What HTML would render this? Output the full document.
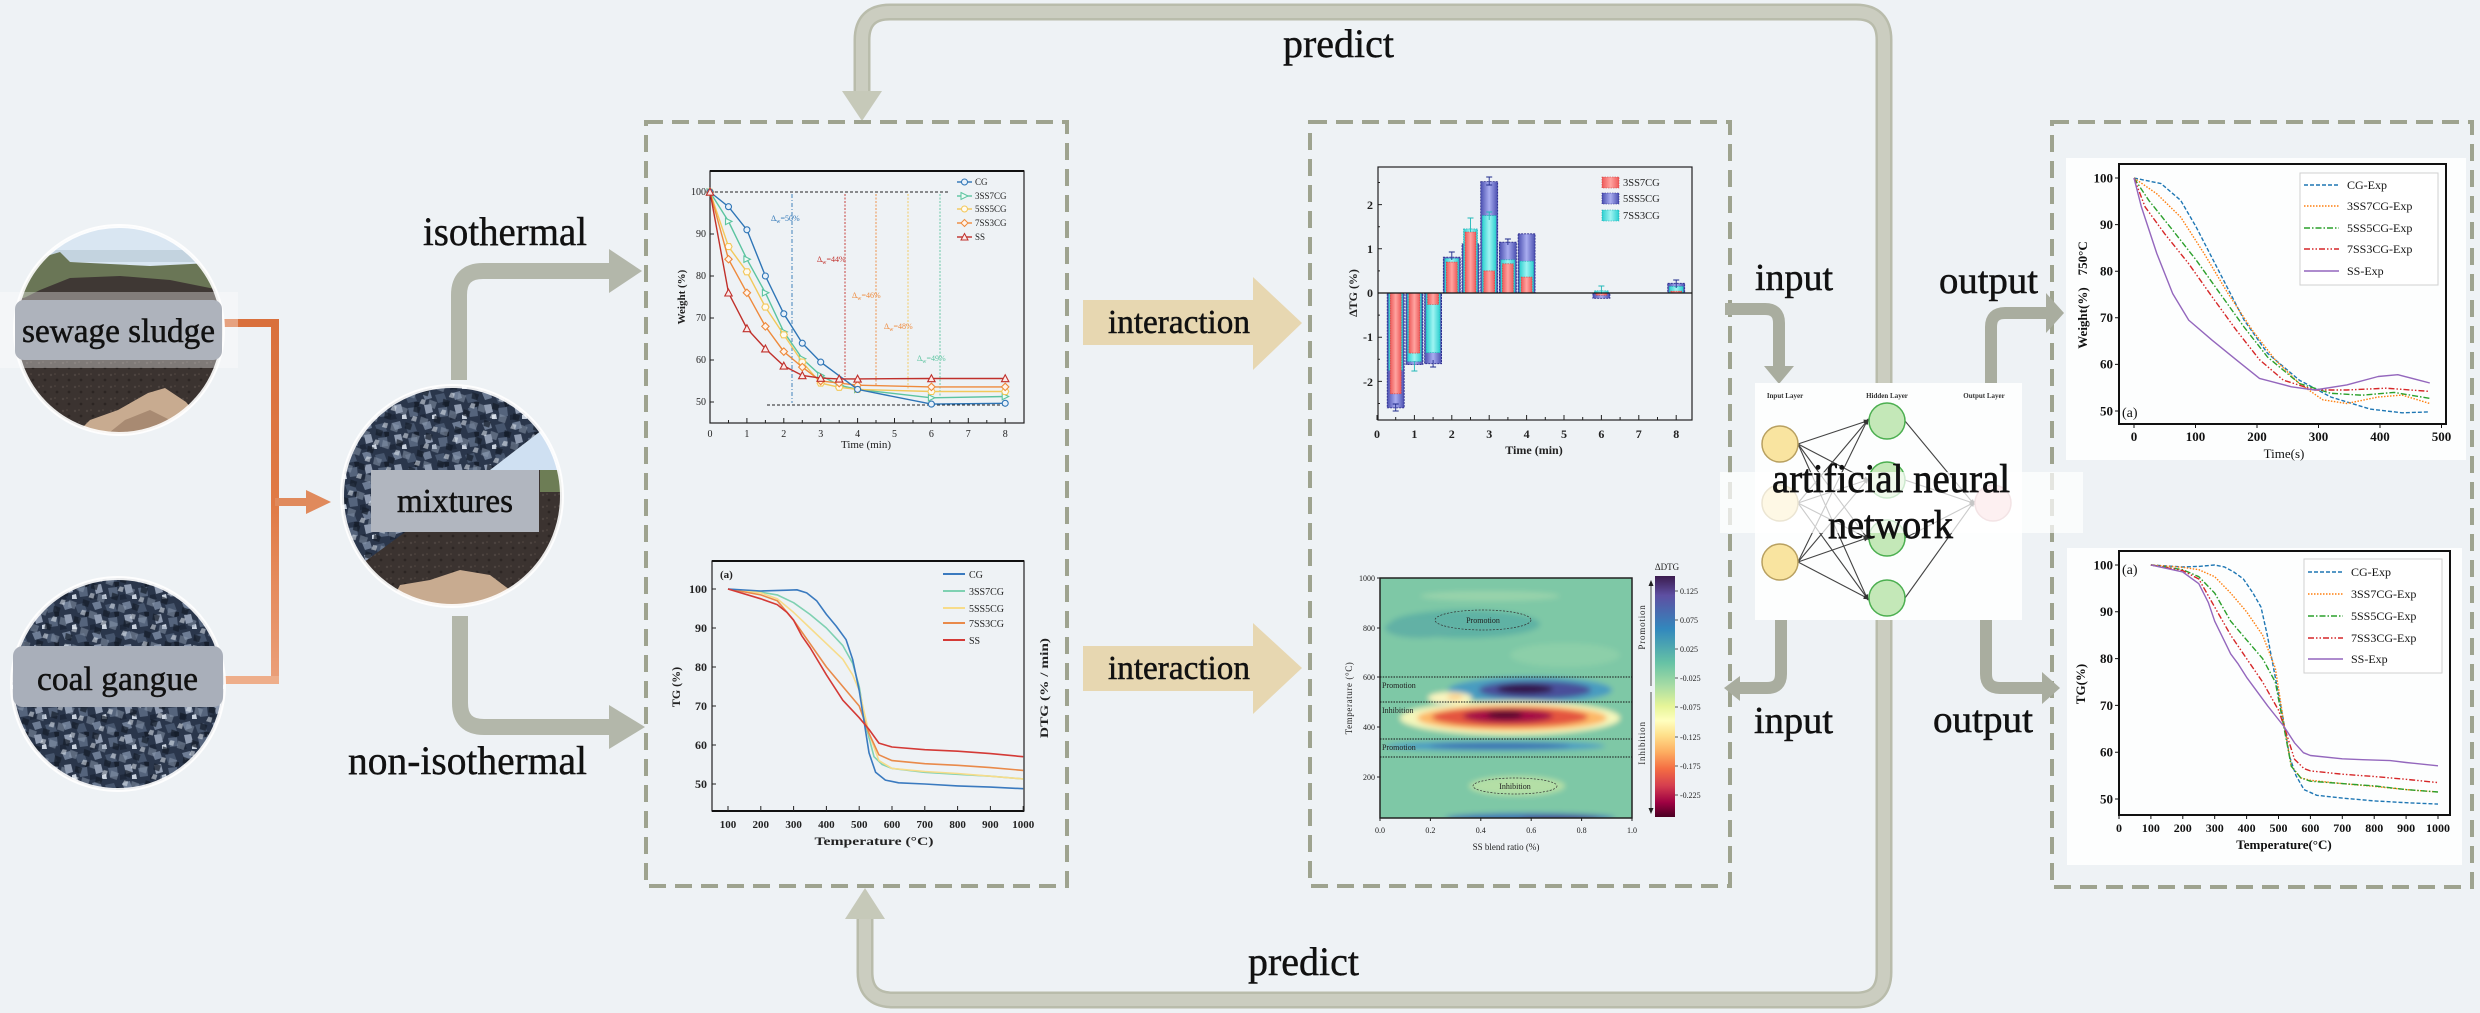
<!DOCTYPE html>
<html><head><meta charset="utf-8"><title>SS/CG ANN graphical abstract</title>
<style>html,body{margin:0;padding:0;background:#eef2f5;}svg{display:block;}svg text{font-family:"Liberation Serif","Times New Roman",serif;}</style></head>
<body>
<svg width="2480" height="1013" viewBox="0 0 2480 1013" xmlns="http://www.w3.org/2000/svg" font-family="'Liberation Serif', serif">
<defs>
  <pattern id="coal" width="30" height="30" patternUnits="userSpaceOnUse">
    <rect width="30" height="30" fill="#2a364b"/>
    <polygon points="2,3 10,1 12,8 5,10" fill="#6d7c94"/>
    <polygon points="15,5 24,3 27,11 18,13" fill="#46556d"/>
    <polygon points="4,15 11,14 13,22 6,24" fill="#8f9bb0"/>
    <polygon points="18,18 27,17 28,26 20,27" fill="#55647c"/>
    <polygon points="12,25 16,24 17,29 12,29" fill="#c9d2de"/>
    <polygon points="24,12 29,12 29,16 25,17" fill="#18202e"/>
    <polygon points="0,25 5,24 7,29 0,30" fill="#1f293b"/>
  </pattern>
  <pattern id="coal2" width="23" height="19" patternUnits="userSpaceOnUse" patternTransform="rotate(27)">
    <polygon points="1,2 8,1 9,7 3,8" fill="#141c2a" opacity="0.7"/>
    <polygon points="12,9 20,8 21,15 14,16" fill="#8e9cb0" opacity="0.5"/>
    <polygon points="5,12 9,11 10,16 5,17" fill="#e4eaf2" opacity="0.55"/>
  </pattern>
  <pattern id="soil" width="12" height="12" patternUnits="userSpaceOnUse">
    <rect width="12" height="12" fill="#3b3330"/>
    <circle cx="3" cy="3" r="1.2" fill="#4d4440"/>
    <circle cx="9" cy="8" r="1.4" fill="#2c2523"/>
    <circle cx="7" cy="2" r="0.8" fill="#554a44"/>
  </pattern>
  <clipPath id="cSew"><circle cx="119" cy="330" r="104"/></clipPath>
  <clipPath id="cCoal"><circle cx="118" cy="684" r="106"/></clipPath>
  <clipPath id="cMix"><circle cx="452" cy="496" r="110"/></clipPath>
  <clipPath id="hmclip"><rect x="1380" y="578" width="252" height="240"/></clipPath>
  <filter id="blur3" x="-10%" y="-10%" width="120%" height="120%"><feGaussianBlur stdDeviation="2.6"/></filter>
  <linearGradient id="cbar" x1="0" y1="0" x2="0" y2="1">
    <stop offset="0" stop-color="#3b1c4e"/><stop offset="0.08" stop-color="#5e4fa2"/>
    <stop offset="0.22" stop-color="#3288bd"/><stop offset="0.36" stop-color="#66c2a5"/>
    <stop offset="0.46" stop-color="#abdda4"/><stop offset="0.54" stop-color="#e6f598"/>
    <stop offset="0.6" stop-color="#ffffbf"/><stop offset="0.66" stop-color="#fee08b"/>
    <stop offset="0.73" stop-color="#fdae61"/><stop offset="0.8" stop-color="#f46d43"/>
    <stop offset="0.87" stop-color="#d53e4f"/><stop offset="0.94" stop-color="#9e0142"/>
    <stop offset="1" stop-color="#4a0022"/>
  </linearGradient>
  <linearGradient id="gP" x1="0" x2="1"><stop offset="0" stop-color="#4a4fb0"/><stop offset="0.5" stop-color="#a9adf0"/><stop offset="1" stop-color="#4a4fb0"/></linearGradient>
  <linearGradient id="gC" x1="0" x2="1"><stop offset="0" stop-color="#2ccfd0"/><stop offset="0.5" stop-color="#9ff4f2"/><stop offset="1" stop-color="#2ccfd0"/></linearGradient>
  <linearGradient id="gR" x1="0" x2="1"><stop offset="0" stop-color="#ee5a5a"/><stop offset="0.5" stop-color="#ffa4a0"/><stop offset="1" stop-color="#ee5a5a"/></linearGradient>
  <linearGradient id="orV" gradientUnits="userSpaceOnUse" x1="0" y1="319" x2="0" y2="684"><stop offset="0" stop-color="#d9703c"/><stop offset="0.5" stop-color="#e07a45"/><stop offset="1" stop-color="#eba07a"/></linearGradient>
  <marker id="mCG" markerWidth="8" markerHeight="8" refX="4" refY="4" markerUnits="userSpaceOnUse" overflow="visible"><circle cx="4" cy="4" r="3" fill="#e8f1fa" stroke="#2e75b6" stroke-width="1.1"/></marker>
  <marker id="m3" markerWidth="8" markerHeight="8" refX="4" refY="4" markerUnits="userSpaceOnUse" overflow="visible"><path d="M1,0.8 L7.5,4 L1,7.2 Z" fill="#eefaf5" stroke="#5cc4a0" stroke-width="1.1"/></marker>
  <marker id="m5" markerWidth="8" markerHeight="8" refX="4" refY="4" markerUnits="userSpaceOnUse" overflow="visible"><path d="M2,1 L6,1 L7.6,4 L6,7 L2,7 L0.4,4 Z" fill="#fffaf0" stroke="#f3c85a" stroke-width="1.1"/></marker>
  <marker id="m7" markerWidth="8" markerHeight="8" refX="4" refY="4" markerUnits="userSpaceOnUse" overflow="visible"><path d="M4,0.3 L7.7,4 L4,7.7 L0.3,4 Z" fill="#fff3ea" stroke="#ee8a3c" stroke-width="1.1"/></marker>
  <marker id="mSS" markerWidth="8" markerHeight="8" refX="4" refY="4" markerUnits="userSpaceOnUse" overflow="visible"><path d="M4,0.3 L7.7,7.2 L0.3,7.2 Z" fill="#fbeaea" stroke="#c0302b" stroke-width="1.1"/></marker>
  <marker id="ah" markerWidth="6" markerHeight="6" refX="3" refY="3" orient="auto" markerUnits="userSpaceOnUse" overflow="visible"><path d="M0,0.5 L6,3 L0,5.5 Z" fill="#333"/></marker>
</defs>

<rect width="2480" height="1013" fill="#eef2f5"/>

<!-- predict loop -->
<path d="M862,95 L862,40 Q862,12 890,12 L1856,12 Q1884,12 1884,40 L1884,972 Q1884,1000 1856,1000 L893,1000 Q865,1000 865,972 L865,915" fill="none" stroke="#b9bcab" stroke-width="17"/>
<path d="M862,95 L862,40 Q862,12 890,12 L1856,12 Q1884,12 1884,40 L1884,972 Q1884,1000 1856,1000 L893,1000 Q865,1000 865,972 L865,915" fill="none" stroke="#cbcdc0" stroke-width="12"/>
<polygon points="842,91 882,91 862,121" fill="#c6c9b9"/>
<polygon points="845,919 885,919 865,888" fill="#c6c9b9"/>

<!-- dashed boxes -->
<g fill="none" stroke="#9ea38f" stroke-width="4" stroke-dasharray="17 9">
  <rect x="646" y="122" width="421" height="764"/>
  <rect x="1310" y="122" width="420" height="764"/>
  <rect x="2052" y="122" width="420" height="765"/>
</g>

<!-- iso / non-iso gray arrows -->
<path d="M459,380 L459,295 Q459,271 483,271 L612,271" fill="none" stroke="#b3b7aa" stroke-width="16"/>
<polygon points="609,249 609,293 642,271" fill="#b3b7aa"/>
<path d="M460,616 L460,703 Q460,727 484,727 L612,727" fill="none" stroke="#b3b7aa" stroke-width="16"/>
<polygon points="609,705 609,749 645,727" fill="#b3b7aa"/>

<!-- orange connectors -->
<rect x="224" y="319" width="55" height="8" fill="#d9703c"/>
<rect x="271" y="319" width="8" height="365" fill="url(#orV)"/>
<rect x="224" y="676" width="55" height="8" fill="#eeae8a"/>
<rect x="275" y="498" width="34" height="8" fill="#e08a5c"/>
<polygon points="306,490 306,514 331,502" fill="#e08a5c"/>

<!-- sewage sludge circle -->
<g clip-path="url(#cSew)">
  <rect x="10" y="220" width="220" height="220" fill="url(#soil)"/>
  <rect x="10" y="220" width="220" height="48" fill="#d9e6f2"/>
  <rect x="10" y="250" width="220" height="12" fill="#aebfcc" opacity="0.5"/>
  <path d="M10,262 L40,258 L60,252 L70,262 L150,266 L230,262 L230,296 L180,290 L120,286 L60,292 L10,300 Z" fill="#6a7656"/>
  <path d="M70,278 L120,276 L170,280 L230,292 L230,300 L10,305 L40,290 Z" fill="#3f3834"/>
  <polygon points="70,440 90,420 118,410 148,393 165,388 186,402 203,422 214,440" fill="#c8ab90"/>
  <polygon points="100,440 125,420 150,410 170,420 180,440" fill="#a88a72"/>
</g>
<circle cx="119" cy="330" r="104" fill="none" stroke="#ffffff" stroke-width="4" opacity="0.9"/>
<rect x="0" y="292" width="238" height="76" fill="#ffffff" opacity="0.35"/>
<rect x="15" y="300" width="207" height="60" rx="9" fill="#aeb3bc"/>
<text x="22" y="342" font-size="34" textLength="193" lengthAdjust="spacingAndGlyphs" fill="#111" stroke="#111" stroke-width="0.5">sewage sludge</text>

<!-- coal gangue circle -->
<g clip-path="url(#cCoal)"><rect x="0" y="570" width="240" height="230" fill="url(#coal)"/><rect x="0" y="570" width="240" height="230" fill="url(#coal2)"/></g>
<circle cx="118" cy="684" r="106" fill="none" stroke="#ffffff" stroke-width="4" opacity="0.9"/>
<rect x="13" y="646" width="210" height="61" rx="10" fill="#a9afba"/>
<text x="37" y="690" font-size="34" textLength="161" lengthAdjust="spacingAndGlyphs" fill="#111" stroke="#111" stroke-width="0.5">coal gangue</text>

<!-- mixtures circle -->
<g clip-path="url(#cMix)">
  <rect x="330" y="380" width="250" height="240" fill="url(#soil)"/>
  <polygon points="330,380 580,380 580,410 542,430 490,470 367,560 330,580" fill="url(#coal)"/>
  <polygon points="330,380 580,380 580,410 542,430 490,470 367,560 330,580" fill="url(#coal2)"/>
  <polygon points="542,430 580,420 580,470 490,470" fill="#cfe0f2"/>
  <rect x="540" y="470" width="40" height="22" fill="#6d7d55"/>
  <polygon points="387,610 400,585 430,580 460,570 490,575 510,590 525,610" fill="#c8ab90"/>
</g>
<circle cx="452" cy="496" r="110" fill="none" stroke="#ffffff" stroke-width="4" opacity="0.9"/>
<rect x="371" y="470" width="168" height="62" fill="#b1b6bf"/>
<text x="397" y="512" font-size="34" textLength="116" lengthAdjust="spacingAndGlyphs" fill="#111" stroke="#111" stroke-width="0.5">mixtures</text>

<!-- interaction arrows -->
<rect x="1083" y="300" width="172" height="45" fill="#e7d7b1"/>
<polygon points="1253,277 1253,370 1302,323" fill="#e7d7b1"/>
<rect x="1083" y="646" width="172" height="45" fill="#e7d7b1"/>
<polygon points="1253,623 1253,714 1302,668" fill="#e7d7b1"/>
<text x="1108" y="333" font-size="34" textLength="142" lengthAdjust="spacingAndGlyphs" fill="#111" stroke="#111" stroke-width="0.5">interaction</text>
<text x="1108" y="679" font-size="34" textLength="142" lengthAdjust="spacingAndGlyphs" fill="#111" stroke="#111" stroke-width="0.5">interaction</text>

<!-- big labels -->
<text x="423" y="245" font-size="40" textLength="164" lengthAdjust="spacingAndGlyphs" fill="#111" stroke="#111" stroke-width="0.4">isothermal</text>
<text x="348" y="774" font-size="40" textLength="239" lengthAdjust="spacingAndGlyphs" fill="#111" stroke="#111" stroke-width="0.4">non-isothermal</text>
<text x="1283" y="57" font-size="40" textLength="111" lengthAdjust="spacingAndGlyphs" fill="#111" stroke="#111" stroke-width="0.4">predict</text>
<text x="1248" y="975" font-size="40" textLength="111" lengthAdjust="spacingAndGlyphs" fill="#111" stroke="#111" stroke-width="0.4">predict</text>

<!-- input/output arrows -->
<g fill="none" stroke="#a9ad9f" stroke-width="12">
  <path d="M1725,309 L1765,309 Q1779,309 1779,323 L1779,368"/>
  <path d="M1781,620 L1781,674 Q1781,688 1767,688 L1738,688"/>
  <path d="M1991,385 L1991,327 Q1991,313 2005,313 L2048,313"/>
  <path d="M1986,620 L1986,674 Q1986,688 2000,688 L2044,688"/>
</g>
<g fill="#a9ad9f">
  <polygon points="1764,366 1794,366 1779,384"/>
  <polygon points="1740,676 1740,701 1724,688"/>
  <polygon points="2046,293 2046,333 2064,313"/>
  <polygon points="2042,672 2042,704 2060,688"/>
</g>
<g fill="#111" stroke="#111" stroke-width="0.5">
<text x="1755" y="290" font-size="38" textLength="78" lengthAdjust="spacingAndGlyphs">input</text>
<text x="1939" y="293" font-size="38" textLength="99" lengthAdjust="spacingAndGlyphs">output</text>
<text x="1754" y="733" font-size="38" textLength="79" lengthAdjust="spacingAndGlyphs">input</text>
<text x="1933" y="732" font-size="38" textLength="100" lengthAdjust="spacingAndGlyphs">output</text>
</g>

<!-- ===== Chart 1: isothermal ===== -->
<g>
  <rect x="710" y="171" width="314" height="252" fill="none" stroke="#222" stroke-width="1.2"/>
  <line x1="710" y1="171" x2="1024" y2="171" stroke="#111" stroke-width="2"/>
  <g stroke="#222" stroke-width="1">
    <path d="M710,423v-5M746.9,423v-5M783.8,423v-5M820.7,423v-5M857.6,423v-5M894.5,423v-5M931.4,423v-5M968.3,423v-5M1005.2,423v-5"/>
    <path d="M728.5,423v-3M765.4,423v-3M802.3,423v-3M839.2,423v-3M876,423v-3M913,423v-3M949.8,423v-3M986.8,423v-3"/>
    <path d="M710,192h4M710,234h4M710,276h4M710,318h4M710,360h4M710,402h4"/>
  </g>
  <g font-size="10" fill="#222" text-anchor="end">
    <text x="706" y="195">100</text><text x="706" y="237">90</text><text x="706" y="279">80</text>
    <text x="706" y="321">70</text><text x="706" y="363">60</text><text x="706" y="405">50</text>
  </g>
  <g font-size="10" fill="#222" text-anchor="middle">
    <text x="710" y="437">0</text><text x="746.9" y="437">1</text><text x="783.8" y="437">2</text>
    <text x="820.7" y="437">3</text><text x="857.6" y="437">4</text><text x="894.5" y="437">5</text>
    <text x="931.4" y="437">6</text><text x="968.3" y="437">7</text><text x="1005.2" y="437">8</text>
  </g>
  <text x="866" y="448" font-size="11" text-anchor="middle" fill="#222">Time (min)</text>
  <text transform="translate(685,297) rotate(-90)" font-size="11" font-weight="bold" text-anchor="middle" fill="#222">Weight (%)</text>
  <line x1="710" y1="192" x2="950" y2="192" stroke="#222" stroke-width="1" stroke-dasharray="3 2"/>
  <line x1="767" y1="405" x2="1005" y2="405" stroke="#222" stroke-width="1" stroke-dasharray="3 2"/>
  <g stroke-width="0.9" fill="none">
    <line x1="792" y1="194" x2="792" y2="403" stroke="#2e75b6" stroke-dasharray="4 2 1 2"/>
    <line x1="845" y1="194" x2="845" y2="377" stroke="#c0302b" stroke-dasharray="2 1.5"/>
    <line x1="876" y1="194" x2="876" y2="385" stroke="#ee8a3c" stroke-dasharray="2 1.5"/>
    <line x1="908" y1="194" x2="908" y2="390" stroke="#f3c85a" stroke-dasharray="2 1.5"/>
    <line x1="940" y1="194" x2="940" y2="396" stroke="#5cc4a0" stroke-dasharray="2 1.5"/>
  </g>
  <g font-size="8">
    <text x="771" y="221" fill="#2e75b6">Δ<tspan font-size="6" dy="2">w</tspan><tspan dy="-2">=50%</tspan></text>
    <text x="817" y="262" fill="#c0302b">Δ<tspan font-size="6" dy="2">w</tspan><tspan dy="-2">=44%</tspan></text>
    <text x="852" y="298" fill="#ee8a3c">Δ<tspan font-size="6" dy="2">w</tspan><tspan dy="-2">=46%</tspan></text>
    <text x="884" y="329" fill="#ee8a3c">Δ<tspan font-size="6" dy="2">w</tspan><tspan dy="-2">=48%</tspan></text>
    <text x="917" y="361" fill="#5cc4a0">Δ<tspan font-size="6" dy="2">w</tspan><tspan dy="-2">=49%</tspan></text>
  </g>
  <g fill="none" stroke-width="1.4">
    <polyline stroke="#5cc4a0" marker-start="url(#m3)" marker-mid="url(#m3)" marker-end="url(#m3)" points="710,192 728.5,221.4 746.9,259.2 765.4,292.8 783.8,331.9 802.3,358.7 820.7,375.5 839.2,385.2 857.6,389.4 931.4,397.8 1005.2,396.5"/>
    <polyline stroke="#f3c85a" marker-start="url(#m5)" marker-mid="url(#m5)" marker-end="url(#m5)" points="710,192 728.5,246.6 746.9,271.8 765.4,307.1 783.8,334.8 802.3,362.1 820.7,383.1 839.2,387.3 857.6,389.4 931.4,391.5 1005.2,391.5"/>
    <polyline stroke="#ee8a3c" marker-start="url(#m7)" marker-mid="url(#m7)" marker-end="url(#m7)" points="710,192 728.5,259.2 746.9,292.8 765.4,326.4 783.8,351.6 802.3,367.1 820.7,381 839.2,383.1 857.6,385.2 931.4,386.9 1005.2,386.9"/>
    <polyline stroke="#2e75b6" marker-start="url(#mCG)" marker-mid="url(#mCG)" marker-end="url(#mCG)" points="710,192 728.5,206.7 746.9,229.8 765.4,276 783.8,313.8 802.3,343.2 820.7,362.1 857.6,389.4 931.4,404.1 1005.2,403.3"/>
    <polyline stroke="#c0302b" marker-start="url(#mSS)" marker-mid="url(#mSS)" marker-end="url(#mSS)" points="710,192 728.5,292.8 746.9,328.5 765.4,348.7 783.8,365.9 802.3,375.5 820.7,378.1 839.2,378.9 857.6,378.9 931.4,378.5 1005.2,378.5"/>
  </g>
  <g stroke-width="1.4">
    <line x1="957" y1="182" x2="972" y2="182" stroke="#2e75b6"/>
    <line x1="957" y1="196" x2="972" y2="196" stroke="#5cc4a0"/>
    <line x1="957" y1="209" x2="972" y2="209" stroke="#f3c85a"/>
    <line x1="957" y1="223" x2="972" y2="223" stroke="#ee8a3c"/>
    <line x1="957" y1="237" x2="972" y2="237" stroke="#c0302b"/>
  </g>
  <circle cx="964.5" cy="182" r="3" fill="#e8f1fa" stroke="#2e75b6"/>
  <path d="M961,192.5 L968,196 L961,199.5Z" fill="#eefaf5" stroke="#5cc4a0"/>
  <circle cx="964.5" cy="209" r="3" fill="#fffaf0" stroke="#f3c85a"/>
  <path d="M964.5,219.5 L968,223 L964.5,226.5 L961,223Z" fill="#fff3ea" stroke="#ee8a3c"/>
  <path d="M964.5,233.5 L968,240 L961,240Z" fill="#fbeaea" stroke="#c0302b"/>
  <g font-size="9" fill="#222">
    <text x="975" y="185">CG</text><text x="975" y="199">3SS7CG</text><text x="975" y="212">5SS5CG</text>
    <text x="975" y="226">7SS3CG</text><text x="975" y="240">SS</text>
  </g>
</g>

<!-- ===== Chart 2: non-isothermal TG ===== -->
<g>
  <rect x="712" y="561" width="312" height="250" fill="none" stroke="#222" stroke-width="1.2"/>
  <line x1="712" y1="561" x2="1024" y2="561" stroke="#111" stroke-width="2"/>
  <line x1="712" y1="811" x2="1024" y2="811" stroke="#111" stroke-width="2"/>
  <g stroke="#222" stroke-width="1">
    <path d="M728,811v-5M760.8,811v-5M793.6,811v-5M826.4,811v-5M859.2,811v-5M892,811v-5M924.8,811v-5M957.6,811v-5M990.4,811v-5M1023.2,811v-5"/>
    <path d="M712,589h4M712,628h4M712,667h4M712,706h4M712,745h4M712,784h4"/>
  </g>
  <g font-size="12" font-weight="bold" fill="#222" text-anchor="end">
    <text x="707" y="593">100</text><text x="707" y="632">90</text><text x="707" y="671">80</text>
    <text x="707" y="710">70</text><text x="707" y="749">60</text><text x="707" y="788">50</text>
  </g>
  <g font-size="11" font-weight="bold" fill="#222" text-anchor="middle">
    <text x="728" y="828">100</text><text x="760.8" y="828">200</text><text x="793.6" y="828">300</text>
    <text x="826.4" y="828">400</text><text x="859.2" y="828">500</text><text x="892" y="828">600</text>
    <text x="924.8" y="828">700</text><text x="957.6" y="828">800</text><text x="990.4" y="828">900</text>
    <text x="1023.2" y="828">1000</text>
  </g>
  <text x="874" y="845" font-size="12" font-weight="bold" text-anchor="middle" textLength="119" lengthAdjust="spacingAndGlyphs" fill="#222">Temperature (°C)</text>
  <text transform="translate(680,687) rotate(-90)" font-size="12" font-weight="bold" text-anchor="middle" fill="#222">TG (%)</text>
  <text transform="translate(1048,688) rotate(-90)" font-size="12" font-weight="bold" text-anchor="middle" textLength="100" lengthAdjust="spacingAndGlyphs" fill="#222">DTG (% / min)</text>
  <text x="720" y="578" font-size="11" font-weight="bold" fill="#222">(a)</text>
  <g fill="none" stroke-width="1.6" stroke-linejoin="round">
    <polyline stroke="#7fd1b2" points="728,589 760.8,592.1 777.2,594.9 793.6,602.7 810,614.4 826.4,628 842.8,645.6 852.6,663.1 859.2,686.5 865.8,725.5 874,756.7 882.2,764.5 892,768.4 924.8,772.3 957.6,774.3 990.4,776.2 1023.2,778.9"/>
    <polyline stroke="#f7dc8a" points="728,589 760.8,592.9 777.2,598.8 793.6,612.4 810,628 826.4,643.6 842.8,659.2 852.6,674.8 859.2,690.4 869,733.3 878.9,760.6 892,768.4 924.8,771.5 957.6,773.5 990.4,776.2 1023.2,778.9"/>
    <polyline stroke="#e98a4a" points="728,589 760.8,594.9 777.2,600.7 793.6,620.2 810,643.6 826.4,667 842.8,686.5 859.2,706 869,733.3 878.9,754.8 892,760.6 924.8,763.7 957.6,765.3 990.4,767.6 1023.2,770.4"/>
    <polyline stroke="#3a7abf" points="728,589 760.8,591 787,590.2 796.9,589.8 806.7,592.9 816.6,600.7 826.4,614.4 836.2,626.1 846.1,639.7 852.6,659.2 859.2,690.4 864.1,721.6 869,752.8 875.6,772.3 885.4,780.1 898.6,782.8 924.8,784 957.6,785.9 990.4,787.1 1023.2,788.7"/>
    <polyline stroke="#d43a36" points="728,589 760.8,598.8 777.2,604.6 787,612.4 793.6,620.2 801.8,635.8 810,647.5 826.4,674.8 842.8,700.2 859.2,717.7 869,729.4 878.9,743.1 892,747 924.8,749.7 957.6,751.2 990.4,753.6 1023.2,756.7"/>
  </g>
  <g stroke-width="2">
    <line x1="943" y1="574" x2="965" y2="574" stroke="#3a7abf"/>
    <line x1="943" y1="591" x2="965" y2="591" stroke="#7fd1b2"/>
    <line x1="943" y1="608" x2="965" y2="608" stroke="#f7dc8a"/>
    <line x1="943" y1="623" x2="965" y2="623" stroke="#e98a4a"/>
    <line x1="943" y1="640" x2="965" y2="640" stroke="#d43a36"/>
  </g>
  <g font-size="10" fill="#222">
    <text x="969" y="578">CG</text><text x="969" y="595">3SS7CG</text><text x="969" y="612">5SS5CG</text>
    <text x="969" y="627">7SS3CG</text><text x="969" y="644">SS</text>
  </g>
</g>

<!-- ===== Chart 3: bar chart ===== -->
<g>
  <rect x="1378" y="167" width="314" height="253" fill="none" stroke="#222" stroke-width="1.2"/>
  <g stroke="#222" stroke-width="1">
    <path d="M1377,420v-5M1414.4,420v-5M1451.8,420v-5M1489.2,420v-5M1526.6,420v-5M1564,420v-5M1601.4,420v-5M1638.8,420v-5M1676.2,420v-5"/>
    <path d="M1395.7,420v-3M1433.1,420v-3M1470.5,420v-3M1507.9,420v-3M1545.3,420v-3M1582.7,420v-3M1620.1,420v-3M1657.5,420v-3"/>
    <path d="M1378,204.6h4M1378,248.8h4M1378,293h4M1378,337.2h4M1378,381.4h4M1378,226.7h2M1378,270.9h2M1378,315.1h2M1378,359.3h2M1378,403.5h2M1378,182.5h2"/>
  </g>
  <g fill="url(#gP)" stroke="#2a2a8a" stroke-width="0.8" stroke-dasharray="2 1">
    <rect x="1387.2" y="293" width="17" height="114.9"/><rect x="1405.9" y="293" width="17" height="71.6"/>
    <rect x="1424.6" y="293" width="17" height="70.7"/><rect x="1443.3" y="257.2" width="17" height="35.8"/>
    <rect x="1462" y="243.9" width="17" height="49.1"/><rect x="1480.7" y="181.6" width="17" height="111.4"/>
    <rect x="1499.4" y="242.2" width="17" height="50.8"/><rect x="1518.1" y="233.8" width="17" height="59.2"/>
    <rect x="1592.9" y="293" width="17" height="5.3"/><rect x="1667.7" y="283.3" width="17" height="9.7"/>
  </g>
  <g fill="url(#gC)" stroke="#18a8b0" stroke-width="0.6" stroke-dasharray="1.5 1">
    <rect x="1388.7" y="293" width="14" height="77.4"/><rect x="1407.4" y="293" width="14" height="68.5"/>
    <rect x="1426.1" y="293" width="14" height="59.7"/><rect x="1444.8" y="258.5" width="14" height="34.5"/>
    <rect x="1463.5" y="228.9" width="14" height="64.1"/><rect x="1482.2" y="215.6" width="14" height="77.4"/>
    <rect x="1500.9" y="259.8" width="14" height="33.2"/><rect x="1519.6" y="261.2" width="14" height="31.8"/>
    <rect x="1594.4" y="290.8" width="14" height="2.2"/><rect x="1669.2" y="286.4" width="14" height="6.6"/>
  </g>
  <g fill="url(#gR)" stroke="#d04040" stroke-width="0.6" stroke-dasharray="1.5 1">
    <rect x="1390.2" y="293" width="11" height="100.8"/><rect x="1408.9" y="293" width="11" height="60.1"/>
    <rect x="1427.6" y="293" width="11" height="11.5"/><rect x="1446.3" y="262.1" width="11" height="30.9"/>
    <rect x="1465" y="232" width="11" height="61"/><rect x="1483.7" y="270.9" width="11" height="22.1"/>
    <rect x="1502.4" y="263.8" width="11" height="29.2"/><rect x="1521.1" y="277.1" width="11" height="15.9"/>
    <rect x="1595.9" y="293" width="11" height="2.2"/><rect x="1670.7" y="291.2" width="11" height="1.8"/>
  </g>
  <g stroke="#1e2a8a" stroke-width="0.9">
    <path d="M1395.7,404v7M1392.7,411h6M1392.7,404h6"/>
    <path d="M1489.2,177v8M1486.2,177h6M1486.2,185h6"/>
    <path d="M1451.8,252v8M1448.8,252h6"/>
    <path d="M1507.9,239v6M1504.9,239h6"/>
    <path d="M1433.1,360v7M1430.1,367h6"/>
    <path d="M1676.2,280v8M1673.2,280h6"/>
  </g>
  <g stroke="#20b8b8" stroke-width="0.9">
    <path d="M1470.5,218v14M1467.5,218h6"/><path d="M1489.2,212v8M1486.2,212h6"/>
    <path d="M1414.4,361v10M1411.4,371h6"/><path d="M1601.4,286v8M1598.4,286h6"/>
  </g>
  <line x1="1378" y1="293" x2="1692" y2="293" stroke="#111" stroke-width="1.3"/>
  <g font-size="12" font-weight="bold" fill="#222" text-anchor="end">
    <text x="1373" y="209">2</text><text x="1373" y="253">1</text><text x="1373" y="297">0</text>
    <text x="1373" y="341">-1</text><text x="1373" y="386">-2</text>
  </g>
  <g font-size="12" font-weight="bold" fill="#222" text-anchor="middle">
    <text x="1377" y="438">0</text><text x="1414.4" y="438">1</text><text x="1451.8" y="438">2</text>
    <text x="1489.2" y="438">3</text><text x="1526.6" y="438">4</text><text x="1564" y="438">5</text>
    <text x="1601.4" y="438">6</text><text x="1638.8" y="438">7</text><text x="1676.2" y="438">8</text>
  </g>
  <text x="1534" y="454" font-size="12" font-weight="bold" text-anchor="middle" fill="#222">Time (min)</text>
  <text transform="translate(1357,293) rotate(-90)" font-size="12" font-weight="bold" text-anchor="middle" fill="#222">ΔTG (%)</text>
  <rect x="1602" y="177" width="17" height="11" fill="url(#gR)" stroke="#d04040" stroke-width="0.6" stroke-dasharray="1.5 1"/>
  <rect x="1602" y="193" width="17" height="11" fill="url(#gP)" stroke="#2a2a8a" stroke-width="0.6" stroke-dasharray="1.5 1"/>
  <rect x="1602" y="210" width="17" height="11" fill="url(#gC)" stroke="#18a8b0" stroke-width="0.6" stroke-dasharray="1.5 1"/>
  <g font-size="10.5" fill="#222">
    <text x="1623" y="186">3SS7CG</text><text x="1623" y="202">5SS5CG</text><text x="1623" y="219">7SS3CG</text>
  </g>
</g>

<!-- ===== Chart 4: heatmap ===== -->
<g>
  <g clip-path="url(#hmclip)"><g filter="url(#blur3)">
    <rect x="1370" y="570" width="270" height="260" fill="#7ec8a6"/>
    <ellipse cx="1490" cy="596" rx="70" ry="5" fill="#98d3ab"/>
    <ellipse cx="1465" cy="624" rx="75" ry="14" fill="#5fb2a4"/>
    <ellipse cx="1420" cy="628" rx="35" ry="10" fill="#62b1a5"/>
    <ellipse cx="1565" cy="655" rx="55" ry="12" fill="#8ccfa9"/>
    <ellipse cx="1530" cy="690" rx="82" ry="13" fill="#4a9cc0"/>
    <ellipse cx="1535" cy="690" rx="56" ry="9" fill="#4a4f9a"/>
    <ellipse cx="1525" cy="689" rx="28" ry="5" fill="#33184c"/>
    <ellipse cx="1450" cy="698" rx="22" ry="6" fill="#fbf6c0"/>
    <ellipse cx="1455" cy="697" rx="8" ry="3" fill="#fcd08a"/>
    <ellipse cx="1450" cy="706" rx="16" ry="3" fill="#4b97c0"/>
    <ellipse cx="1510" cy="718" rx="110" ry="17" fill="#f4f7bb"/>
    <ellipse cx="1512" cy="718" rx="95" ry="13" fill="#fdb868"/>
    <ellipse cx="1510" cy="717" rx="78" ry="10" fill="#e4553f"/>
    <ellipse cx="1508" cy="716" rx="45" ry="7" fill="#a50f45"/>
    <ellipse cx="1505" cy="715" rx="18" ry="4" fill="#5a0a2e"/>
    <ellipse cx="1495" cy="746" rx="110" ry="5" fill="#4a9cc2"/>
    <ellipse cx="1500" cy="746" rx="70" ry="3" fill="#3a6fb0"/>
    <ellipse cx="1517" cy="786" rx="48" ry="10" fill="#b4dfa6"/>
    <ellipse cx="1530" cy="818" rx="85" ry="5" fill="#4078b4"/>
    <ellipse cx="1560" cy="819" rx="40" ry="3" fill="#4a3f8e"/>
  </g></g>
  <rect x="1380" y="578" width="252" height="240" fill="none" stroke="#222" stroke-width="1.5"/>
  <g stroke="#111" stroke-width="0.9" stroke-dasharray="1.5 1.2">
    <line x1="1380" y1="677" x2="1632" y2="677"/><line x1="1380" y1="702" x2="1632" y2="702"/>
    <line x1="1380" y1="739" x2="1632" y2="739"/><line x1="1380" y1="757" x2="1632" y2="757"/>
  </g>
  <g fill="none" stroke="#333" stroke-width="0.7" stroke-dasharray="2 1.5">
    <ellipse cx="1483" cy="620" rx="48" ry="10"/><ellipse cx="1515" cy="786" rx="42" ry="8"/>
  </g>
  <g font-size="8" fill="#222">
    <text x="1483" y="623" text-anchor="middle">Promotion</text>
    <text x="1515" y="789" text-anchor="middle">Inhibition</text>
    <text x="1382" y="688">Promotion</text>
    <text x="1382" y="713">Inhibition</text>
    <text x="1382" y="750">Promotion</text>
  </g>
  <g stroke="#222" stroke-width="1">
    <path d="M1380,578h-3M1380,628h-3M1380,677h-3M1380,727h-3M1380,777h-3"/>
    <path d="M1380,818v3M1430.4,818v3M1480.8,818v3M1531.2,818v3M1581.6,818v3M1632,818v3"/>
  </g>
  <g font-size="8" fill="#222" text-anchor="end">
    <text x="1375" y="581">1000</text><text x="1375" y="631">800</text><text x="1375" y="680">600</text>
    <text x="1375" y="730">400</text><text x="1375" y="780">200</text>
  </g>
  <g font-size="8" fill="#222" text-anchor="middle">
    <text x="1380" y="833">0.0</text><text x="1430.4" y="833">0.2</text><text x="1480.8" y="833">0.4</text>
    <text x="1531.2" y="833">0.6</text><text x="1581.6" y="833">0.8</text><text x="1632" y="833">1.0</text>
  </g>
  <text x="1506" y="850" font-size="9" text-anchor="middle" fill="#222">SS blend ratio (%)</text>
  <text transform="translate(1352,698) rotate(-90)" font-size="9" text-anchor="middle" letter-spacing="0.6" fill="#222">Temperature (°C)</text>
  <rect x="1655" y="576" width="20" height="241" fill="url(#cbar)"/>
  <g stroke="#222" stroke-width="0.8">
    <path d="M1675,591h3M1675,620h3M1675,649h3M1675,678h3M1675,707h3M1675,737h3M1675,766h3M1675,795h3"/>
    <line x1="1651" y1="584" x2="1651" y2="686"/><line x1="1651" y1="692" x2="1651" y2="810"/>
  </g>
  <path d="M1648.5,586 L1651,580 L1653.5,586Z M1648.5,808 L1651,814 L1653.5,808Z" fill="#222"/>
  <g font-size="8" fill="#222">
    <text x="1680" y="594">0.125</text><text x="1680" y="623">0.075</text><text x="1680" y="652">0.025</text>
    <text x="1680" y="681">-0.025</text><text x="1680" y="710">-0.075</text><text x="1680" y="740">-0.125</text>
    <text x="1680" y="769">-0.175</text><text x="1680" y="798">-0.225</text>
  </g>
  <text x="1667" y="570" font-size="9" text-anchor="middle" fill="#222">ΔDTG</text>
  <text transform="translate(1645,627) rotate(-90)" font-size="9" text-anchor="middle" letter-spacing="0.8" fill="#222">Promotion</text>
  <text transform="translate(1645,743) rotate(-90)" font-size="9" text-anchor="middle" letter-spacing="0.8" fill="#222">Inhibition</text>
</g>

<!-- ===== ANN ===== -->
<g>
  <rect x="1755" y="383" width="267" height="237" fill="#fdfefe"/>
  <g font-size="7" font-weight="bold" fill="#333" text-anchor="middle">
    <text x="1785" y="398">Input Layer</text><text x="1887" y="398">Hidden Layer</text><text x="1984" y="398">Output Layer</text>
  </g>
  <g stroke="#444" stroke-width="1.1" marker-end="url(#ah)">
    <line x1="1798" y1="444" x2="1867" y2="421"/><line x1="1798" y1="444" x2="1867" y2="480"/>
    <line x1="1798" y1="444" x2="1867" y2="538"/><line x1="1798" y1="444" x2="1867" y2="598"/>
    <line x1="1798" y1="503" x2="1867" y2="421"/><line x1="1798" y1="503" x2="1867" y2="480"/>
    <line x1="1798" y1="503" x2="1867" y2="538"/><line x1="1798" y1="503" x2="1867" y2="598"/>
    <line x1="1798" y1="562" x2="1867" y2="421"/><line x1="1798" y1="562" x2="1867" y2="480"/>
    <line x1="1798" y1="562" x2="1867" y2="538"/><line x1="1798" y1="562" x2="1867" y2="598"/>
    <line x1="1905" y1="421" x2="1973" y2="503"/><line x1="1905" y1="480" x2="1973" y2="503"/>
    <line x1="1905" y1="538" x2="1973" y2="503"/><line x1="1905" y1="598" x2="1973" y2="503"/>
  </g>
  <g stroke-width="1.5">
    <circle cx="1780" cy="444" r="18" fill="#f9e4a0" stroke="#b8a060"/>
    <circle cx="1780" cy="503" r="18" fill="#f9e4a0" stroke="#b8a060"/>
    <circle cx="1780" cy="562" r="18" fill="#f9e4a0" stroke="#b8a060"/>
    <circle cx="1887" cy="421" r="18" fill="#c4e8b8" stroke="#4caf50"/>
    <circle cx="1887" cy="480" r="18" fill="#c4e8b8" stroke="#4caf50"/>
    <circle cx="1887" cy="538" r="18" fill="#c4e8b8" stroke="#4caf50"/>
    <circle cx="1887" cy="598" r="18" fill="#c4e8b8" stroke="#4caf50"/>
    <circle cx="1993" cy="503" r="18" fill="#f6c8cc" stroke="#d49aa0"/>
  </g>
  <rect x="1720" y="472" width="363" height="61" fill="#ffffff" opacity="0.72"/>
  <text x="1772" y="492" font-size="40" textLength="238" lengthAdjust="spacingAndGlyphs" fill="#111" stroke="#111" stroke-width="0.7">artificial neural</text>
  <text x="1828" y="538" font-size="40" textLength="125" lengthAdjust="spacingAndGlyphs" fill="#111" stroke="#111" stroke-width="0.7">network</text>
</g>

<!-- ===== Chart 5: output top ===== -->
<g>
  <rect x="2066" y="158" width="400" height="302" fill="#fdfefe"/>
  <rect x="2119" y="164" width="327" height="260" fill="none" stroke="#111" stroke-width="2"/>
  <g stroke="#111" stroke-width="1">
    <path d="M2119,178h-4M2119,224.6h-4M2119,271.2h-4M2119,317.8h-4M2119,364.4h-4M2119,411h-4"/>
    <path d="M2134,424v4M2195.5,424v4M2257,424v4M2318.5,424v4M2380,424v4M2441.5,424v4"/>
  </g>
  <g font-size="13" font-weight="bold" fill="#111" text-anchor="end">
    <text x="2113" y="182.5">100</text><text x="2113" y="229">90</text><text x="2113" y="275.5">80</text>
    <text x="2113" y="322">70</text><text x="2113" y="368.5">60</text><text x="2113" y="415.5">50</text>
  </g>
  <g font-size="13" font-weight="bold" fill="#111" text-anchor="middle">
    <text x="2134" y="441">0</text><text x="2195.5" y="441">100</text><text x="2257" y="441">200</text>
    <text x="2318.5" y="441">300</text><text x="2380" y="441">400</text><text x="2441.5" y="441">500</text>
  </g>
  <text x="2284" y="458" font-size="13" text-anchor="middle" fill="#111">Time(s)</text>
  <text transform="translate(2087,295) rotate(-90)" font-size="13" font-weight="bold" text-anchor="middle" fill="#111">Weight(%)<tspan dx="12">750°C</tspan></text>
  <text x="2122" y="417" font-size="14" fill="#111">(a)</text>
  <g fill="none" stroke-width="1.4" stroke-linejoin="round">
    <polyline stroke="#1f77b4" stroke-dasharray="4 2" points="2134,178 2161.1,183.6 2180.7,200.4 2196.1,226.9 2220.1,273.5 2244.1,320.1 2267.5,353.2 2299.4,380.2 2330.8,397 2370.2,409.1 2402.1,412.8 2429.8,411.9"/>
    <polyline stroke="#ff7f0e" stroke-dasharray="1.5 1.5" points="2134,178 2156.8,193.8 2180.7,217.1 2204.1,253.5 2228.1,293.6 2252.1,329.9 2275.5,360.2 2299.4,383.5 2322.8,399.8 2346.8,403.5 2378.2,397 2402.1,395.1 2429.8,403.5"/>
    <polyline stroke="#2ca02c" stroke-dasharray="6 2 1.5 2" points="2134,178 2148.8,200.4 2172.7,230.2 2196.1,260 2220.1,293.6 2244.1,327.1 2267.5,357 2299.4,383.5 2330.8,393.3 2362.2,395.2 2394.1,392.4 2429.8,398.4"/>
    <polyline stroke="#d62728" stroke-dasharray="6 2 1.5 2 1.5 2" points="2134,178 2145.1,206.9 2164.8,233.9 2188.7,263.7 2212.1,296.8 2236.1,329.9 2259.5,359.7 2283.4,380.2 2314.8,390 2346.8,390 2386.2,388.2 2429.8,391.4"/>
    <polyline stroke="#9467bd" points="2134,178 2141.4,206.9 2156.8,253.5 2172.7,293.6 2188.7,320.1 2212.1,340.2 2236.1,359.7 2259.5,378.4 2291.4,386.8 2314.8,390 2346.8,384.9 2378.2,376.5 2397.8,374.7 2429.8,383"/>
  </g>
  <rect x="2300" y="173" width="138" height="112" fill="#ffffff" stroke="#d0d0d0" stroke-width="1"/>
  <g stroke-width="1.5">
    <line x1="2304" y1="185" x2="2339" y2="185" stroke="#1f77b4" stroke-dasharray="4 2"/>
    <line x1="2304" y1="206" x2="2339" y2="206" stroke="#ff7f0e" stroke-dasharray="1.5 1.5"/>
    <line x1="2304" y1="228" x2="2339" y2="228" stroke="#2ca02c" stroke-dasharray="6 2 1.5 2"/>
    <line x1="2304" y1="249" x2="2339" y2="249" stroke="#d62728" stroke-dasharray="6 2 1.5 2 1.5 2"/>
    <line x1="2304" y1="271" x2="2339" y2="271" stroke="#9467bd"/>
  </g>
  <g font-size="12" fill="#111">
    <text x="2347" y="189">CG-Exp</text><text x="2347" y="210">3SS7CG-Exp</text><text x="2347" y="232">5SS5CG-Exp</text>
    <text x="2347" y="253">7SS3CG-Exp</text><text x="2347" y="275">SS-Exp</text>
  </g>
</g>

<!-- ===== Chart 6: output bottom ===== -->
<g>
  <rect x="2067" y="548" width="395" height="317" fill="#fdfefe"/>
  <rect x="2119" y="551" width="331" height="264" fill="none" stroke="#111" stroke-width="2"/>
  <g stroke="#111" stroke-width="1">
    <path d="M2119,565h-4M2119,611.8h-4M2119,658.6h-4M2119,705.4h-4M2119,752.2h-4M2119,799h-4"/>
    <path d="M2119,815v4M2150.9,815v4M2182.8,815v4M2214.7,815v4M2246.6,815v4M2278.5,815v4M2310.4,815v4M2342.3,815v4M2374.2,815v4M2406.1,815v4M2438,815v4"/>
  </g>
  <g font-size="13" font-weight="bold" fill="#111" text-anchor="end">
    <text x="2113" y="569.5">100</text><text x="2113" y="616">90</text><text x="2113" y="663">80</text>
    <text x="2113" y="710">70</text><text x="2113" y="756.5">60</text><text x="2113" y="803.5">50</text>
  </g>
  <g font-size="12" font-weight="bold" fill="#111" text-anchor="middle">
    <text x="2119" y="832">0</text><text x="2150.9" y="832">100</text><text x="2182.8" y="832">200</text>
    <text x="2214.7" y="832">300</text><text x="2246.6" y="832">400</text><text x="2278.5" y="832">500</text>
    <text x="2310.4" y="832">600</text><text x="2342.3" y="832">700</text><text x="2374.2" y="832">800</text>
    <text x="2406.1" y="832">900</text><text x="2438" y="832">1000</text>
  </g>
  <text x="2284" y="849" font-size="13" font-weight="bold" text-anchor="middle" fill="#111">Temperature(°C)</text>
  <text transform="translate(2085,684) rotate(-90)" font-size="13" font-weight="bold" text-anchor="middle" fill="#111">TG(%)</text>
  <text x="2122" y="574" font-size="14" fill="#111">(a)</text>
  <g fill="none" stroke-width="1.4" stroke-linejoin="round">
    <polyline stroke="#1f77b4" stroke-dasharray="4 2" points="2150.9,565 2182.8,566.9 2198.8,566.4 2214.7,565 2224.3,566.9 2233.8,572 2243.4,579 2253,593.1 2261,607.1 2267.3,635.2 2275.3,677.3 2283.3,719.4 2289.7,756.9 2296,775.6 2304,789.6 2316.8,795.3 2342.3,798.1 2374.2,800.9 2406.1,802.7 2438,804.1"/>
    <polyline stroke="#ff7f0e" stroke-dasharray="1.5 1.5" points="2150.9,565 2182.8,567.3 2198.8,569.7 2214.7,576.7 2230.7,593.1 2246.6,611.8 2262.6,635.2 2275.3,668 2283.3,719.5 2291.3,766.2 2300.8,777.9 2310.4,780.3 2342.3,783.6 2374.2,786.4 2406.1,789.6 2438,792"/>
    <polyline stroke="#2ca02c" stroke-dasharray="6 2 1.5 2" points="2150.9,565 2182.8,569.7 2198.8,576.7 2214.7,593.1 2230.7,621.2 2246.6,639.9 2262.6,658.6 2275.3,682 2283.3,724.1 2291.3,766.2 2300.8,777.9 2310.4,781.2 2342.3,783.6 2374.2,785.9 2406.1,789.6 2438,792"/>
    <polyline stroke="#d62728" stroke-dasharray="6 2 1.5 2 1.5 2" points="2150.9,565 2182.8,570.6 2198.8,579 2214.7,607.1 2230.7,635.2 2246.6,658.6 2262.6,682 2278.5,710.1 2284.9,728.8 2294.5,759.2 2304,768.6 2310.4,770.9 2342.3,774.2 2374.2,776.5 2406.1,779.3 2438,782.6"/>
    <polyline stroke="#9467bd" points="2150.9,565 2182.8,572 2198.8,583.7 2208.3,602.4 2214.7,621.2 2230.7,653.9 2237.7,663.3 2246.6,677.3 2267.7,705.9 2283.6,726 2294.5,742.8 2303.4,752.7 2310.4,755.5 2342.3,758.8 2362.7,759.7 2390.2,760.6 2406.1,762.5 2438,765.8"/>
  </g>
  <rect x="2304" y="559" width="138" height="114" fill="#ffffff" stroke="#d0d0d0" stroke-width="1"/>
  <g stroke-width="1.5">
    <line x1="2308" y1="572" x2="2343" y2="572" stroke="#1f77b4" stroke-dasharray="4 2"/>
    <line x1="2308" y1="594" x2="2343" y2="594" stroke="#ff7f0e" stroke-dasharray="1.5 1.5"/>
    <line x1="2308" y1="616" x2="2343" y2="616" stroke="#2ca02c" stroke-dasharray="6 2 1.5 2"/>
    <line x1="2308" y1="638" x2="2343" y2="638" stroke="#d62728" stroke-dasharray="6 2 1.5 2 1.5 2"/>
    <line x1="2308" y1="659" x2="2343" y2="659" stroke="#9467bd"/>
  </g>
  <g font-size="12" fill="#111">
    <text x="2351" y="576">CG-Exp</text><text x="2351" y="598">3SS7CG-Exp</text><text x="2351" y="620">5SS5CG-Exp</text>
    <text x="2351" y="642">7SS3CG-Exp</text><text x="2351" y="663">SS-Exp</text>
  </g>
</g>
</svg>
</body></html>
